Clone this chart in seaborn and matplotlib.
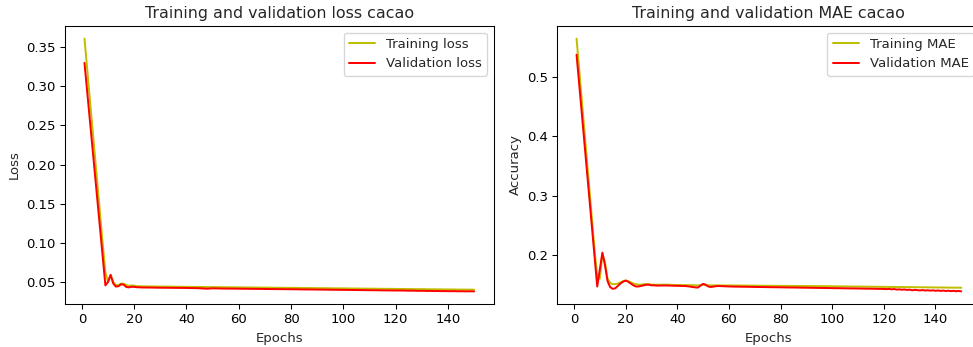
import matplotlib
matplotlib.use("Agg")
import matplotlib.pyplot as plt
import seaborn as sns

# Training history of the cacao model (150 epochs)
epochs = list(range(1, 151))

train_loss = [
    0.3610, 0.3234, 0.2858, 0.2482, 0.2106, 0.1730, 0.1354, 0.0978, 0.0620, 0.0500,
    0.0585, 0.0500, 0.0460, 0.0460, 0.0478, 0.0478, 0.0460, 0.0450, 0.0455, 0.0452,
    0.0445, 0.0444, 0.0443, 0.0443, 0.0442, 0.0442, 0.0441, 0.0441, 0.0440, 0.0440,
    0.0440, 0.0439, 0.0439, 0.0439, 0.0438, 0.0438, 0.0438, 0.0437, 0.0437, 0.0437,
    0.0436, 0.0436, 0.0436, 0.0435, 0.0435, 0.0435, 0.0434, 0.0434, 0.0434, 0.0433,
    0.0433, 0.0433, 0.0432, 0.0432, 0.0432, 0.0431, 0.0431, 0.0431, 0.0430, 0.0430,
    0.0430, 0.0429, 0.0429, 0.0429, 0.0428, 0.0428, 0.0428, 0.0427, 0.0427, 0.0427,
    0.0426, 0.0426, 0.0426, 0.0425, 0.0425, 0.0425, 0.0424, 0.0424, 0.0424, 0.0423,
    0.0423, 0.0423, 0.0422, 0.0422, 0.0422, 0.0421, 0.0421, 0.0421, 0.0420, 0.0420,
    0.0420, 0.0419, 0.0419, 0.0419, 0.0418, 0.0418, 0.0418, 0.0417, 0.0417, 0.0417,
    0.0416, 0.0416, 0.0416, 0.0415, 0.0415, 0.0415, 0.0414, 0.0414, 0.0414, 0.0413,
    0.0413, 0.0413, 0.0412, 0.0412, 0.0412, 0.0411, 0.0411, 0.0411, 0.0410, 0.0410,
    0.0410, 0.0409, 0.0409, 0.0409, 0.0408, 0.0408, 0.0408, 0.0407, 0.0407, 0.0407,
    0.0406, 0.0406, 0.0406, 0.0405, 0.0405, 0.0405, 0.0404, 0.0404, 0.0404, 0.0403,
    0.0403, 0.0403, 0.0402, 0.0402, 0.0402, 0.0401, 0.0401, 0.0401, 0.0400, 0.0400,
]

val_loss = [
    0.3300, 0.2945, 0.2590, 0.2235, 0.1880, 0.1525, 0.1170, 0.0815, 0.0455, 0.0500,
    0.0590, 0.0480, 0.0440, 0.0445, 0.0470, 0.0465, 0.0435, 0.0430, 0.0438, 0.0437,
    0.0432, 0.0430, 0.0429, 0.0429, 0.0428, 0.0428, 0.0427, 0.0427, 0.0426, 0.0426,
    0.0426, 0.0425, 0.0425, 0.0424, 0.0424, 0.0424, 0.0423, 0.0423, 0.0423, 0.0422,
    0.0422, 0.0421, 0.0421, 0.0420, 0.0419, 0.0417, 0.0415, 0.0413, 0.0416, 0.0418,
    0.0417, 0.0416, 0.0416, 0.0415, 0.0415, 0.0414, 0.0414, 0.0414, 0.0413, 0.0413,
    0.0413, 0.0412, 0.0412, 0.0411, 0.0411, 0.0411, 0.0410, 0.0410, 0.0410, 0.0409,
    0.0409, 0.0409, 0.0408, 0.0408, 0.0408, 0.0407, 0.0407, 0.0407, 0.0406, 0.0406,
    0.0406, 0.0405, 0.0405, 0.0404, 0.0404, 0.0404, 0.0403, 0.0403, 0.0402, 0.0402,
    0.0402, 0.0401, 0.0401, 0.0400, 0.0400, 0.0400, 0.0399, 0.0399, 0.0398, 0.0398,
    0.0398, 0.0397, 0.0397, 0.0396, 0.0396, 0.0396, 0.0395, 0.0395, 0.0394, 0.0394,
    0.0394, 0.0393, 0.0393, 0.0392, 0.0392, 0.0392, 0.0391, 0.0391, 0.0390, 0.0390,
    0.0390, 0.0389, 0.0390, 0.0388, 0.0388, 0.0387, 0.0388, 0.0386, 0.0386, 0.0385,
    0.0386, 0.0384, 0.0385, 0.0384, 0.0383, 0.0384, 0.0382, 0.0383, 0.0382, 0.0382,
    0.0381, 0.0382, 0.0381, 0.0380, 0.0381, 0.0380, 0.0379, 0.0380, 0.0379, 0.0379,
]

train_mae = [
    0.5640, 0.5130, 0.4620, 0.4110, 0.3600, 0.3090, 0.2580, 0.2070, 0.1640, 0.1600,
    0.2010, 0.1880, 0.1600, 0.1530, 0.1510, 0.1510, 0.1520, 0.1540, 0.1560, 0.1570,
    0.1560, 0.1540, 0.1520, 0.1510, 0.1500, 0.1500, 0.1510, 0.1510, 0.1510, 0.1500,
    0.1500, 0.1500, 0.1500, 0.1500, 0.1500, 0.1500, 0.1500, 0.1495, 0.1495, 0.1495,
    0.1494, 0.1494, 0.1493, 0.1493, 0.1492, 0.1492, 0.1490, 0.1488, 0.1492, 0.1498,
    0.1494, 0.1490, 0.1489, 0.1489, 0.1489, 0.1488, 0.1488, 0.1488, 0.1487, 0.1487,
    0.1487, 0.1486, 0.1486, 0.1486, 0.1485, 0.1485, 0.1485, 0.1484, 0.1484, 0.1484,
    0.1483, 0.1483, 0.1483, 0.1482, 0.1482, 0.1482, 0.1481, 0.1481, 0.1481, 0.1480,
    0.1480, 0.1480, 0.1479, 0.1479, 0.1479, 0.1478, 0.1478, 0.1478, 0.1477, 0.1477,
    0.1477, 0.1476, 0.1476, 0.1476, 0.1475, 0.1475, 0.1475, 0.1474, 0.1474, 0.1474,
    0.1473, 0.1473, 0.1472, 0.1472, 0.1471, 0.1471, 0.1470, 0.1470, 0.1469, 0.1469,
    0.1468, 0.1468, 0.1467, 0.1467, 0.1466, 0.1466, 0.1465, 0.1465, 0.1464, 0.1464,
    0.1463, 0.1463, 0.1462, 0.1462, 0.1462, 0.1461, 0.1461, 0.1460, 0.1460, 0.1459,
    0.1459, 0.1458, 0.1458, 0.1457, 0.1457, 0.1456, 0.1456, 0.1455, 0.1455, 0.1454,
    0.1454, 0.1453, 0.1453, 0.1452, 0.1452, 0.1451, 0.1451, 0.1450, 0.1450, 0.1449,
]

val_mae = [
    0.5370, 0.4882, 0.4395, 0.3907, 0.3420, 0.2932, 0.2445, 0.1957, 0.1470, 0.1760,
    0.2040, 0.1830, 0.1560, 0.1460, 0.1430, 0.1440, 0.1480, 0.1520, 0.1550, 0.1570,
    0.1550, 0.1520, 0.1490, 0.1470, 0.1470, 0.1480, 0.1490, 0.1500, 0.1500, 0.1490,
    0.1490, 0.1485, 0.1485, 0.1487, 0.1488, 0.1486, 0.1485, 0.1484, 0.1483, 0.1483,
    0.1482, 0.1480, 0.1478, 0.1474, 0.1468, 0.1462, 0.1455, 0.1452, 0.1485, 0.1515,
    0.1500, 0.1470, 0.1462, 0.1468, 0.1475, 0.1478, 0.1476, 0.1473, 0.1471, 0.1470,
    0.1469, 0.1468, 0.1468, 0.1467, 0.1466, 0.1466, 0.1465, 0.1464, 0.1464, 0.1463,
    0.1462, 0.1462, 0.1461, 0.1460, 0.1460, 0.1459, 0.1458, 0.1458, 0.1457, 0.1456,
    0.1456, 0.1455, 0.1454, 0.1454, 0.1453, 0.1452, 0.1452, 0.1451, 0.1450, 0.1450,
    0.1449, 0.1448, 0.1448, 0.1447, 0.1446, 0.1446, 0.1445, 0.1444, 0.1444, 0.1443,
    0.1442, 0.1442, 0.1441, 0.1440, 0.1440, 0.1439, 0.1438, 0.1438, 0.1437, 0.1436,
    0.1436, 0.1435, 0.1434, 0.1434, 0.1433, 0.1432, 0.1431, 0.1430, 0.1431, 0.1428,
    0.1426, 0.1430, 0.1422, 0.1427, 0.1418, 0.1422, 0.1416, 0.1420, 0.1412, 0.1417,
    0.1406, 0.1414, 0.1408, 0.1404, 0.1410, 0.1402, 0.1407, 0.1400, 0.1405, 0.1398,
    0.1403, 0.1396, 0.1401, 0.1394, 0.1399, 0.1392, 0.1397, 0.1390, 0.1395, 0.1388,
]

sns.set_style("ticks")
plt.rcParams["font.family"] = ["DejaVu Sans"]

DPI = 95
fig = plt.figure(figsize=(973 / DPI, 347 / DPI), dpi=DPI)
ax1 = fig.add_axes([0.0668, 0.1239, 0.4405, 0.8012])
ax2 = fig.add_axes([0.5728, 0.1239, 0.4349, 0.8012])

# Loss panel
sns.lineplot(x=epochs, y=train_loss, color="y", label="Training loss", ax=ax1)
sns.lineplot(x=epochs, y=val_loss, color="r", label="Validation loss", ax=ax1)
ax1.set_title("Training and validation loss cacao", fontsize=12)
ax1.set_xlabel("Epochs")
ax1.set_ylabel("Loss")
ax1.legend(loc="upper right")

# MAE panel
sns.lineplot(x=epochs, y=train_mae, color="y", label="Training MAE", ax=ax2)
sns.lineplot(x=epochs, y=val_mae, color="r", label="Validation MAE", ax=ax2)
ax2.set_title("Training and validation MAE cacao", fontsize=12)
ax2.set_xlabel("Epochs")
ax2.set_ylabel("Accuracy")
ax2.legend(loc="upper right")

for ax in (ax1, ax2):
    ax.set_xticks([0, 20, 40, 60, 80, 100, 120, 140])
    for s in ax.spines.values():
        s.set_visible(True)
        s.set_color("black")
        s.set_linewidth(0.8)
    ax.tick_params(colors="black", labelsize=10)

fig.savefig("out.png", dpi=DPI)
